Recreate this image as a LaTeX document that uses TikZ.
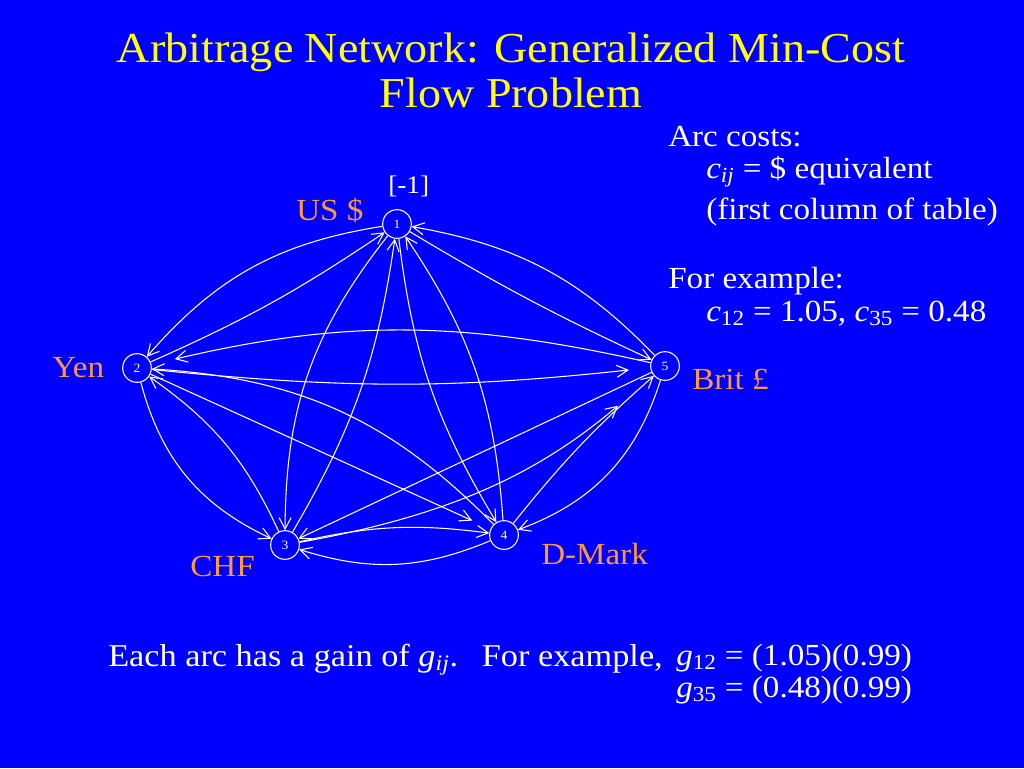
\documentclass[tikz,border=0pt]{standalone}
\usepackage{fontspec}
\setmainfont{Liberation Serif}[FakeStretch=1.08]
\usetikzlibrary{arrows.meta}
\definecolor{bg}{RGB}{0,0,255}
\definecolor{ttl}{RGB}{255,255,0}
\definecolor{lbl}{RGB}{255,153,51}
\begin{document}
\begin{tikzpicture}[x=0.75pt,y=-0.75pt,
  vertex/.style={circle,draw=white,line width=0.8pt,minimum size=21.5pt,inner sep=0pt,text=white,font=\fontsize{9.5}{10}\selectfont},
  arc/.style={draw=white,line width=0.8pt,-{Straight Barb[length=8.5pt,width=9pt]}},
  lab/.style={text=lbl,font=\fontsize{23}{26}\selectfont,anchor=base west,inner sep=0pt},
  body/.style={text=white,font=\fontsize{23}{26}\selectfont,anchor=base west,inner sep=0pt},
  ttlst/.style={text=ttl,font=\fontsize{32}{34}\selectfont,anchor=base,inner sep=0pt}]
\fill[bg] (0,0) rectangle (1024,768);
\useasboundingbox (0,0) rectangle (1024,768);
% title
\node[ttlst] (t1) at (511,62) {Arbitrage Network: Generalized Min-Cost};
\node[ttlst] (t2) at (511,107) {Flow Problem};
% vertices
\node[vertex] (n1) at (397,224) {1};
\node[vertex] (n2) at (137,368) {2};
\node[vertex] (n3) at (285,545) {3};
\node[vertex] (n4) at (504,535) {4};
\node[vertex] (n5) at (665,366) {5};
% labels
\node[body,font=\fontsize{19}{22}\selectfont] (sup) at (388,193) {[-1]};
\node[lab] (lus) at (296,220) {US \$};
\node[lab] (lyen) at (52,377) {Yen};
\node[lab] (lbrit) at (692,389) {Brit £};
\node[lab] (lchf) at (190,576) {CHF};
\node[lab] (ldm) at (541,564) {D-Mark};
% arcs
\draw[arc] (n1) to[bend right=20] (n2);
\draw[arc] (n2) to[bend right=5] (n1);
\draw[arc] (n5) to[bend right=18] (n1);
\draw[arc] (n1) to[bend right=3] (n5);
\draw[arc,shorten >=18pt] (n5) to[bend right=13] (n2);
\draw[arc,shorten >=16pt] (n2) to[bend right=6] (n5);
\draw[arc] (n2) to[bend right=25] (n3);
\draw[arc] (n3) to[bend right=15] (n2);
\draw[arc,shorten >=15pt] (n2) to (n4);
\draw[arc] (n4) to[bend right=21] (n2);
\draw[arc] (n1) to[bend right=19] (n3);
\draw[arc] (n3) to[bend right=11] (n1);
\draw[arc] (n1) to[bend right=12] (n4);
\draw[arc] (n4) to[bend right=15] (n1);
\draw[arc] (n5) to (n3);
\draw[arc,shorten >=35pt] (n3) to[bend right=15] (n5);
\draw[arc] (n3) to[bend left=10] (n4);
\draw[arc] (n4) to[bend left=20] (n3);
\draw[arc] (n5) to[bend left=26] (n4);
\draw[arc] (n4) to[bend left=5] (n5);
% right text
\node[body] (a1) at (668,146) {Arc costs:};
\node[body] (a2) at (706,178) {\textit{c}\textsubscript{\textit{ij}} = \$ equivalent};
\node[body] (a3) at (706,219) {(first column of table)};
\node[body] (a4) at (668,288) {For example:};
\node[body] (a5) at (706,321) {\textit{c}\textsubscript{12} = 1.05, \textit{c}\textsubscript{35} = 0.48};
% bottom text
\node[body,font=\fontsize{23.8}{26}\selectfont] (b1) at (108,666) {Each arc has a gain of \textit{g}\textsubscript{\textit{ij}}.\hspace{0.75em}For example,};
\node[body] (b2) at (676,665) {\textit{g}\textsubscript{12} = (1.05)(0.99)};
\node[body] (b3) at (676,697) {\textit{g}\textsubscript{35} = (0.48)(0.99)};
\end{tikzpicture}
\end{document}
